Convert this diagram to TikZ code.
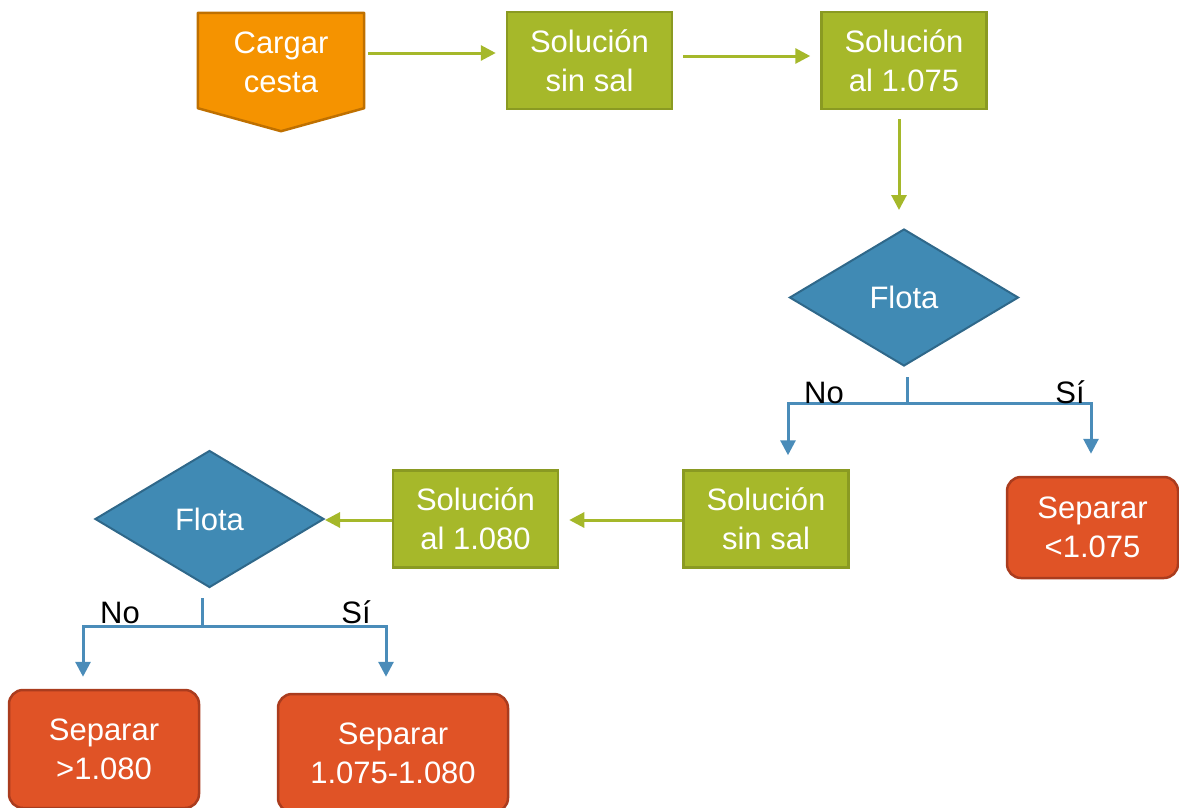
\documentclass[tikz,border=0pt]{standalone}
\usepackage{fontspec}
\setmainfont{Liberation Sans}
\usetikzlibrary{shapes.geometric,arrows.meta,calc}
\definecolor{gfill}{HTML}{A6B82A}
\definecolor{gdraw}{HTML}{8A9A22}
\definecolor{gconn}{HTML}{A5B82A}
\definecolor{ofill}{HTML}{F59300}
\definecolor{odraw}{HTML}{BF7000}
\definecolor{bfill}{HTML}{408AB4}
\definecolor{bdraw}{HTML}{2F688A}
\definecolor{bconn}{HTML}{4A8CB9}
\definecolor{rfill}{HTML}{E05326}
\definecolor{rdraw}{HTML}{AA3C1E}
\begin{document}
\begin{tikzpicture}[x=1pt,y=-1pt,
  txt/.style={font=\fontsize{31}{39}\selectfont},
  gbox/.style={rectangle, draw=gdraw, fill=gfill, line width=2.5pt, text=white, align=center, inner sep=0pt, minimum width=165pt, minimum height=97pt, txt},
  sepbox/.style={rectangle, rounded corners=14pt, draw=rdraw, fill=rfill, line width=2.5pt, text=white, align=center, inner sep=0pt, txt},
  dia/.style={diamond, draw=bdraw, fill=bfill, line width=2pt, text=white, inner sep=0pt, minimum width=229pt, minimum height=137pt, txt},
  garrow/.style={draw=gconn, line width=3pt, -{Triangle[length=15pt,width=15pt]}},
  bl/.style={draw=bconn, line width=3pt},
  barrow/.style={bl, -{Triangle[length=15pt,width=15pt]}},
  lbl/.style={txt, text=black, anchor=base, inner sep=0pt}
]
\useasboundingbox (0,0) rectangle (1179,807);
\clip (0,0) rectangle (1179,807);

% Cargar cesta (off-page connector shape)
\node[txt, text=white, align=center, inner sep=0pt, minimum width=166pt, minimum height=95pt] (cargar) at (281,60.5) {};
\filldraw[fill=ofill, draw=odraw, line width=2.5pt, line join=round]
  (cargar.north west) -- (cargar.north east) -- (cargar.south east)
  -- ([yshift=-23pt]cargar.south) -- (cargar.south west) -- cycle;
\node[txt, text=white, align=center, inner sep=0pt] at ([yshift=-2pt]cargar.center) {Cargar\\cesta};

\node[gbox] (sol1) at (589.5,60.5) {Solución\\sin sal};
\node[gbox] (sol2) at (904,60.5) {Solución\\al 1.075};
\node[dia] (flota1) at (904,297.5) {Flota};
\node[gbox] (sol3) at (766,519) {Solución\\sin sal};
\node[gbox] (sol4) at (475.5,519) {Solución\\al 1.080};
\node[dia] (flota2) at (209.5,519) {Flota};
\node[sepbox, minimum width=171pt, minimum height=101pt] (sep1) at (1092.5,527.5) {Separar\\<1.075};
\node[sepbox, minimum width=190pt, minimum height=118pt] (sep2) at (104,749) {Separar\\>1.080};
\node[sepbox, minimum width=230pt, minimum height=118pt] (sep3) at (393,753) {Separar\\1.075-1.080};

% green connectors
\draw[garrow] ([xshift=4pt,yshift=7.5pt]cargar.east) -- ([xshift=-10pt,yshift=7.5pt]sol1.west);
\draw[garrow] ([xshift=10pt,yshift=4.5pt]sol1.east) -- ([xshift=-10pt,yshift=4.5pt]sol2.west);
\draw[garrow] ([xshift=-5pt,yshift=-9pt]sol2.south) -- ([xshift=-5pt,yshift=18pt]flota1.north);
\draw[garrow] ([yshift=-1pt]sol3.west) -- ([xshift=10pt,yshift=-1pt]sol4.east);
\draw[garrow] ([yshift=-1pt]sol4.west) -- ([yshift=-1pt]flota2.east);

% branch 1
\coordinate (b1) at ([xshift=3pt,yshift=-36pt]flota1.south);
\draw[bl, line cap=rect] ([xshift=3pt,yshift=-11pt]flota1.south) -- (b1);
\draw[barrow] (b1) -| ([xshift=22pt,yshift=14pt]sol3.north);
\draw[barrow] (b1) -| ([xshift=-1.5pt,yshift=22pt]sep1.north);
\node[lbl] (no1) at (824,403) {No};
\node[lbl] (si1) at (1070,403) {Sí};

% branch 2
\coordinate (b2) at ([xshift=-7.5pt,yshift=-37.5pt]flota2.south);
\draw[bl, line cap=rect] ([xshift=-7.5pt,yshift=-11pt]flota2.south) -- (b2);
\draw[barrow] (b2) -| ([xshift=-21pt,yshift=12pt]sep2.north);
\draw[barrow] (b2) -| ([xshift=-7pt,yshift=16pt]sep3.north);
\node[lbl] (no2) at (120,623) {No};
\node[lbl] (si2) at (356,623) {Sí};
\end{tikzpicture}
\end{document}
